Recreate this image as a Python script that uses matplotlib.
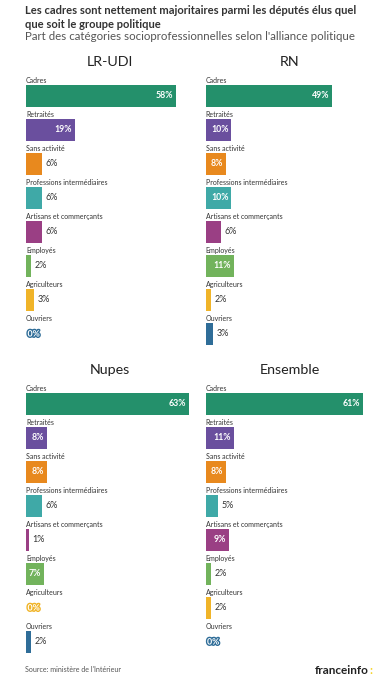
import matplotlib.pyplot as plt
from matplotlib import patheffects

plt.rcParams['font.family'] = ['Lato', 'DejaVu Sans']

W, H = 392, 695

categories = ['Cadres', 'Retraités', 'Sans activité', 'Professions intermédiaires',
              'Artisans et commerçants', 'Employés', 'Agriculteurs', 'Ouvriers']
colors = ['#24906b', '#6a4f9e', '#e8891e', '#3fa9a7', '#9a3f84', '#72b35c', '#f0b429', '#2f6d98']

groups = ['LR-UDI', 'RN', 'Nupes', 'Ensemble']
lr_udi = [58, 19, 6, 6, 6, 2, 3, 0]
rn = [49, 10, 8, 10, 6, 11, 2, 3]
nupes = [63, 8, 8, 6, 1, 7, 0, 2]
ensemble = [61, 11, 8, 5, 9, 2, 2, 0]
values = [lr_udi, rn, nupes, ensemble]

fig = plt.figure(figsize=(W / 100, H / 100), dpi=100)
fig.patch.set_facecolor('white')

# pixel helpers
def fx(px):
    return px / W

def fy(py):
    return 1 - py / H

pitch = 34
xscale = 2.585  # px per percent
lefts = [26, 205.5, 26, 205.5]
cadres_centers = [96, 96, 404, 404]

for k, (name, vals) in enumerate(zip(groups, values)):
    top = cadres_centers[k] - pitch * 1.0
    height = pitch * 8.5
    width = 65 * xscale
    ax = fig.add_axes([fx(lefts[k]), fy(top + height), fx(width), height / H])
    ax.barh(range(len(categories)), vals, height=0.65, color=colors)
    ax.set_xlim(0, 65)
    ax.set_ylim(7.5, -1.0)
    ax.axis('off')

    for i, (cat, v) in enumerate(zip(categories, vals)):
        ax.text(0, i - 0.47, cat, fontsize=5.0, va='center', ha='left', color='#333333')
        if v >= 7:
            ax.text(v - 1.1, i, f'{v}%', ha='right', va='center', color='white',
                    fontweight='bold', fontsize=6.3)
        elif v == 0:
            ax.text(0.6, i, '0%', ha='left', va='center', color='white',
                    fontweight='bold', fontsize=6.3,
                    path_effects=[patheffects.withStroke(linewidth=2, foreground=colors[i])])
        else:
            ax.text(v + 1.4, i, f'{v}%', ha='left', va='center', color='#333333',
                    fontsize=6.5)

    fig.text(fx(lefts[k] + width / 2), fy(cadres_centers[k] - 34), name,
             ha='center', va='center', fontsize=10.3, color='#222222')

fig.text(fx(25), fy(10), 'Les cadres sont nettement majoritaires parmi les députés élus quel',
         ha='left', va='center', fontsize=8.0, fontweight='bold', color='#333333')
fig.text(fx(25), fy(24), 'que soit le groupe politique',
         ha='left', va='center', fontsize=8.0, fontweight='bold', color='#333333')
fig.text(fx(25), fy(37), "Part des catégories socioprofessionnelles selon l'alliance politique",
         ha='left', va='center', fontsize=8.3, color='#555555')

fig.text(fx(25), fy(670), "Source: ministère de l'Intérieur",
         ha='left', va='center', fontsize=5.1, color='#555555')
fig.text(fx(369), fy(670), 'franceinfo', ha='right', va='center',
         fontsize=8.5, fontweight='bold', color='#222222')
fig.text(fx(369), fy(670), ':', ha='left', va='center',
         fontsize=8.5, fontweight='bold', color='#f5d327')

fig.savefig('out.png', dpi=100)
